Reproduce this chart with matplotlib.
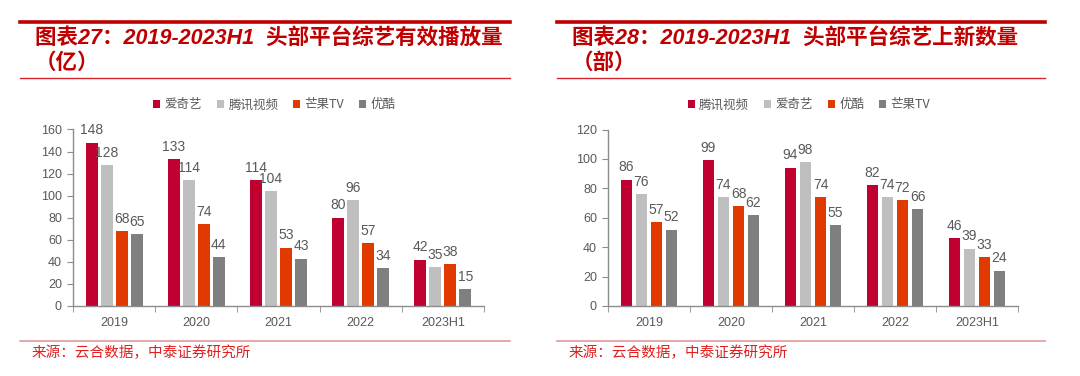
import matplotlib
matplotlib.use('Agg')
import matplotlib.pyplot as plt
from matplotlib.lines import Line2D
import numpy as np

plt.rcParams['font.family'] = ['Liberation Sans', 'Noto Sans CJK SC', 'DejaVu Sans']

years = ['2019', '2020', '2021', '2022', '2023H1']

# chart 27: effective plays (100 million)
left_names = ['爱奇艺', '腾讯视频', '芒果TV', '优酷']
left_values = [
    [148, 133, 114, 80, 42],
    [128, 114, 104, 96, 35],
    [68, 74, 53, 57, 38],
    [65, 44, 43, 34, 15],
]

# chart 28: new shows (count)
right_names = ['腾讯视频', '爱奇艺', '优酷', '芒果TV']
right_values = [
    [86, 99, 94, 82, 46],
    [76, 74, 98, 74, 39],
    [57, 68, 74, 72, 33],
    [52, 62, 55, 66, 24],
]

colors = ['#C00030', '#BFBFBF', '#E03A00', '#7F7F7F']
red = '#C00000'
txt_gray = '#595959'
axis_gray = '#8C8C8C'

W, H = 1080, 376
fig = plt.figure(figsize=(W / 100, H / 100), dpi=100)


def px(x0, y0, x1, y1):
    # pixel box (top-left origin) -> figure fraction rect
    return [x0 / W, 1 - y1 / H, (x1 - x0) / W, (y1 - y0) / H]


def hline(x0, x1, y, lw, color):
    fig.add_artist(Line2D([x0 / W, x1 / W], [1 - y / H, 1 - y / H],
                          color=color, lw=lw, transform=fig.transFigure))


def panel(rect, names, values, ymax, ystep):
    ax = fig.add_axes(rect)
    x = np.arange(len(years))
    step = 0.183
    width = 0.146
    offs = (np.arange(len(names)) - 1.5) * step
    for i, name in enumerate(names):
        bars = ax.bar(x + offs[i], values[i], width, color=colors[i], label=name)
        for b, v in zip(bars, values[i]):
            ax.text(b.get_x() + b.get_width() / 2, v + ymax * 0.03, str(v),
                    ha='center', va='bottom', fontsize=10, color=txt_gray)
    ax.set_xlim(-0.5, len(years) - 0.5)
    ax.set_ylim(0, ymax)
    ax.set_yticks(np.arange(0, ymax + 1, ystep))
    ax.set_xticks(x)
    ax.set_xticklabels(years)
    ax.set_xticks(np.arange(-0.5, len(years)), minor=True)
    ax.tick_params(axis='x', which='major', length=0, pad=8, labelsize=9, labelcolor=txt_gray)
    ax.tick_params(axis='x', which='minor', length=4, color=axis_gray, direction='out')
    ax.tick_params(axis='y', length=4, color=axis_gray, labelsize=9, labelcolor=txt_gray, pad=4)
    for s in ['top', 'right']:
        ax.spines[s].set_visible(False)
    for s in ['left', 'bottom']:
        ax.spines[s].set_color(axis_gray)
        ax.spines[s].set_linewidth(1)
    leg = ax.legend(loc='lower center', bbox_to_anchor=(0.49, 1.04), ncol=4, frameon=False,
                    handlelength=0.55, handleheight=0.55, handletextpad=0.35, columnspacing=1.2,
                    prop={'family': ['Noto Sans CJK SC'], 'size': 9})
    for t in leg.get_texts():
        t.set_color(txt_gray)
    return ax


panel(px(73, 129.5, 484, 306), left_names, left_values, 160, 20)
panel(px(608, 129.5, 1018, 306), right_names, right_values, 120, 20)

title_font = ['Liberation Sans', 'Noto Sans CJK SC']
for x0, x1, title, unit in [(20, 510, '图表27：2019-2023H1  头部平台综艺有效播放量', '（亿）'),
                            (557, 1045, '图表28：2019-2023H1  头部平台综艺上新数量', '（部）')]:
    hline(x0, x1, 22, 2.6, red)
    hline(x0, x1, 78, 1.0, '#D9262B')
    hline(x0, x1, 341, 1.2, '#E39A9C')
    fig.text((x0 + 15) / W, 1 - 38 / H, title, family=title_font, fontsize=15.5,
             fontweight='bold', style='italic', color=red, va='center')
    fig.text((x0 + 15) / W, 1 - 63 / H, unit, family=title_font, fontsize=15.5,
             fontweight='bold', style='italic', color=red, va='center')
    fig.text((x0 + 12) / W, 1 - 353 / H, '来源：云合数据，中泰证券研究所',
             family=['Noto Sans CJK SC'], fontsize=10.5, color='#E02020', va='center')

fig.savefig('out.png', dpi=100)
